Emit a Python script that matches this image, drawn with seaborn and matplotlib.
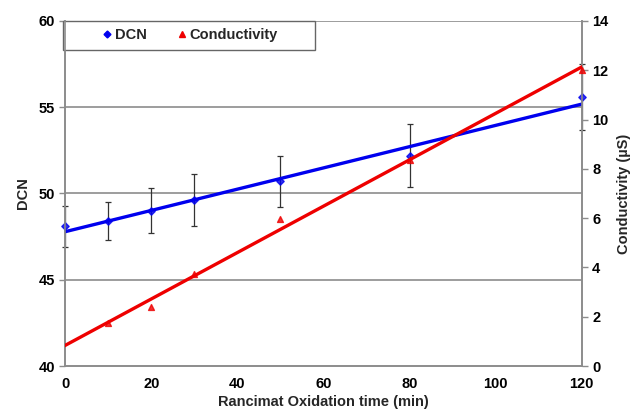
import numpy as np
import pandas as pd
import matplotlib
matplotlib.use("Agg")
import matplotlib.pyplot as plt
import seaborn as sns
from matplotlib.lines import Line2D
from matplotlib.patches import Rectangle

# values
dcn_time = [0, 10, 20, 30, 50, 80, 120]
dcn_value = [48.1, 48.4, 49.0, 49.6, 50.7, 52.2, 55.6]
dcn_err = [1.2, 1.1, 1.3, 1.5, 1.5, 1.8, 1.9]

cond_time = [10, 20, 30, 50, 80, 120]
cond_value = [1.76, 2.4, 3.73, 5.96, 8.36, 12.0]

dcn = pd.DataFrame({"time": dcn_time, "DCN": dcn_value, "err": dcn_err})
cond = pd.DataFrame({"time": cond_time, "cond": cond_value})

sns.set_style("white")
plt.rcParams["font.family"] = ["Liberation Sans", "DejaVu Sans"]

fig = plt.figure(figsize=(6.33, 4.17), dpi=100)
ax = fig.add_axes([0.103, 0.122, 0.816, 0.828])
ax2 = ax.twinx()

grid_c = "#8c8c8c"
for v in [45, 50, 55, 60]:
    ax.axhline(v, color=grid_c, lw=1.2, zorder=0)

ax.errorbar(dcn["time"], dcn["DCN"], yerr=dcn["err"], fmt="none",
            ecolor="#333333", elinewidth=0.9, capsize=2.5, capthick=0.9,
            zorder=2, clip_on=False)
sns.regplot(data=dcn, x="time", y="DCN", ax=ax, ci=None, color="#0000ee",
            marker="D", scatter_kws={"s": 14, "zorder": 3, "clip_on": False},
            line_kws={"lw": 2.4, "zorder": 3}, truncate=True)

sns.regplot(data=cond, x="time", y="cond", ax=ax2, ci=None, color="#ee0000",
            marker="^", scatter_kws={"s": 18, "zorder": 3, "clip_on": False},
            line_kws={"lw": 2.4, "zorder": 3}, truncate=False)

ax.set_xlim(0, 120)
ax.set_ylim(40, 60)
ax2.set_ylim(0, 14)
ax.set_xticks(range(0, 121, 20))
ax.set_yticks(range(40, 61, 5))
ax2.set_yticks(range(0, 15, 2))

for a in (ax, ax2):
    for side in ("left", "right", "bottom", "top"):
        a.spines[side].set_color(grid_c)
        a.spines[side].set_linewidth(1.2)
    a.spines["top"].set_visible(False)
    a.tick_params(colors="black", labelsize=10.5, length=4, width=1, direction="out")
    a.tick_params(axis="both", color=grid_c)
    for lbl in a.get_xticklabels() + a.get_yticklabels():
        lbl.set_fontweight("bold")

ax.set_xlabel("Rancimat Oxidation time (min)", fontsize=10.5, fontweight="bold", labelpad=3)
ax.set_ylabel("DCN", fontsize=10.5, fontweight="bold", labelpad=6)
ax2.set_ylabel("Conductivity (µS)", fontsize=10.5, fontweight="bold", labelpad=6)

# legend box in the upper-left corner of the plot
ax.add_patch(Rectangle((-0.004, 0.916), 0.488, 0.084, transform=ax.transAxes,
                       facecolor="white", edgecolor="#666666", lw=1.0,
                       zorder=4, clip_on=False))
handles = [
    Line2D([], [], marker="D", color="#0000ee", ls="none", markersize=3.5),
    Line2D([], [], marker="^", color="#ee0000", ls="none", markersize=4.5),
]
leg = ax.legend(handles, ["DCN", "Conductivity"], ncol=2, loc="center",
                bbox_to_anchor=(0.24, 0.958), frameon=False,
                handletextpad=0.05, handlelength=0.9, columnspacing=2.0,
                prop={"weight": "bold", "size": 10.5})
leg.set_zorder(5)

fig.savefig("out.png", dpi=100)
